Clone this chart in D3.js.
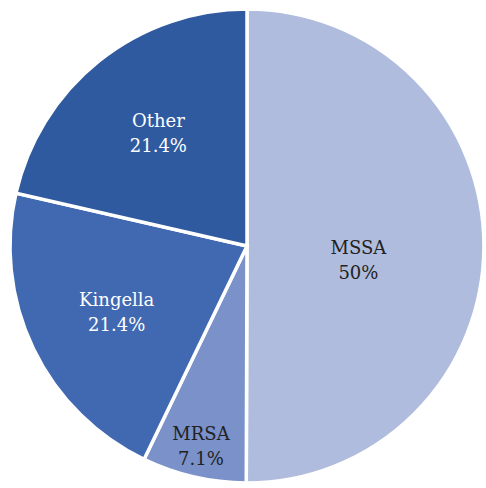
<!DOCTYPE html>
<html>
<head>
<meta charset="utf-8">
<script src="https://cdn.jsdelivr.net/npm/d3@7"></script>
<style>
  body { margin: 0; background: #fff; }
  svg { display: block; }
</style>
</head>
<body>
<div id="chart"></div>
<script>
const categories = ["MSSA", "MRSA", "Kingella", "Other"];
const values = [50, 7.1, 21.4, 21.4];
const valueLabels = ["50%", "7.1%", "21.4%", "21.4%"];

const colors = ["#b0bcdd", "#7a91c9", "#4169b2", "#2f5a9f"];
const textColors = ["#222", "#222", "#fff", "#fff"];
// label placement: share of radius along the mid angle, plus a small vertical nudge
const labelPos = [0.47, 0.865, 0.61, 0.6];
const labelNudge = [12, -1, 2, -3];

const width = 486, height = 488;
const cx = 247, cy = 246, radius = 237;

const svg = d3.select("#chart").append("svg")
    .attr("width", width)
    .attr("height", height);

const g = svg.append("g").attr("transform", `translate(${cx},${cy})`);

const pie = d3.pie().sort(null).value(d => d.value);
const data = categories.map((c, i) => ({ name: c, value: values[i], label: valueLabels[i], i }));
const arcs = pie(data);

const arc = d3.arc().innerRadius(0).outerRadius(radius);

g.selectAll("path")
    .data(arcs)
    .enter()
    .append("path")
        .attr("d", arc)
        .style("fill", d => colors[d.data.i])
        .style("stroke", "#fff")
        .style("stroke-width", 3.5);

const labels = g.selectAll("text")
    .data(arcs)
    .enter()
    .append("text")
        .attr("transform", d => {
            const r = radius * labelPos[d.data.i];
            const a = (d.startAngle + d.endAngle) / 2;
            return `translate(${Math.sin(a) * r},${-Math.cos(a) * r + labelNudge[d.data.i]})`;
        })
        .attr("text-anchor", "middle")
        .attr("font-family", "'DejaVu Serif', 'Liberation Serif', 'Noto Serif', Georgia, serif")
        .attr("font-size", 18)
        .style("fill", d => textColors[d.data.i]);

labels.append("tspan").attr("x", 0).attr("dy", "-0.25em").text(d => d.data.name);
labels.append("tspan").attr("x", 0).attr("dy", "1.4em").text(d => d.data.label);
</script>
</body>
</html>
